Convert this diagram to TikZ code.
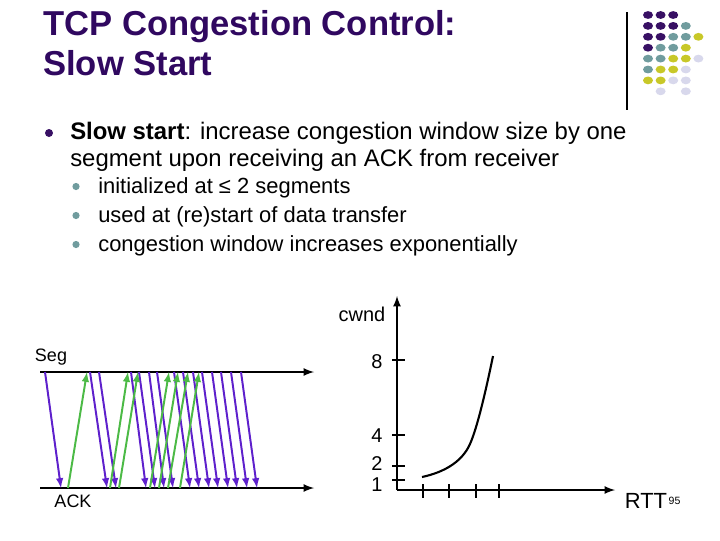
\documentclass[tikz,border=0pt]{standalone}
\usepackage{fontspec}
\setmainfont{Liberation Sans}
\usetikzlibrary{arrows,positioning}
\definecolor{titlepurple}{RGB}{48,8,96}
\definecolor{segviolet}{RGB}{94,32,204}
\definecolor{ackgreen}{RGB}{76,186,70}
\definecolor{dotP}{RGB}{56,16,100}
\definecolor{dotT}{RGB}{112,156,158}
\definecolor{dotY}{RGB}{200,200,40}
\definecolor{dotL}{RGB}{216,216,236}
\tikzset{every node/.append style={transform shape=false}}
\tikzset{
  titletext/.style={font=\fontsize{24.6}{28}\selectfont\bfseries,text=titlepurple,anchor=base west,inner sep=0},
  bodytext/.style={font=\fontsize{17}{19.2}\selectfont,anchor=base west,inner sep=0},
  subtext/.style={font=\fontsize{15.6}{18}\selectfont,anchor=base west,inner sep=0},
  axislabel/.style={font=\fontsize{14.2}{16}\selectfont,inner sep=0},
  smalllabel/.style={font=\fontsize{12.8}{15}\selectfont,inner sep=0},
  seg/.style={draw=segviolet,line width=1.4pt,-latex},
  ack/.style={draw=ackgreen,line width=1.4pt,-latex},
  timeline/.style={line width=1.5pt,-latex},
  axis/.style={line width=1.5pt,-latex},
  tick/.style={line width=1.3pt}
}

\begin{document}
\begin{tikzpicture}[x=0.025cm,y=-0.025cm]
\useasboundingbox (0,0) rectangle (720,540);
\node[titletext] (title1) at (43,35) {TCP Congestion Control:};
\node[titletext] (title2) at (43,75) {Slow Start};
\draw[line width=0.8pt] (627,12)--(627,110);
\foreach \r/\cl in {1/{P,P,P,N,N},2/{P,P,P,T,N},3/{P,P,T,T,Y},4/{P,T,T,Y,N},
  5/{T,T,Y,Y,L},6/{T,Y,Y,L,N},7/{Y,Y,L,L,N},8/{N,L,N,L,N}}{
  \foreach \c [count=\k] in \cl {
    \if\c N\else
      \fill[dot\c] ({648+12.6*(\k-1)},{15+10.9*(\r-1)}) ellipse (5 and 3.9);
    \fi
  }
}
\fill[dotP] (49,133) circle (4);
\node[bodytext] (main1) at (70,139) {\textbf{Slow start}: increase congestion window size by one};
\node[bodytext] (main2) at (70,166) {segment upon receiving an ACK from receiver};
\foreach \y/\txt [count=\i] in {193/{initialized at ≤ 2 segments},222/{used at (re)start of data transfer},251/{congestion window increases exponentially}}{
  \fill[dotT] (76,\y-6.5) circle (3.6);
  \node[subtext] (sub\i) at (98,\y) {\txt};
}
\coordinate (segstart) at (40,372);
\coordinate (segend) at (314,372);
\coordinate (ackstart) at (40,488);
\coordinate (ackend) at (314,488);
\draw[timeline] (segstart)--(segend);
\draw[timeline] (ackstart)--(ackend);
\node[smalllabel] (seglabel) at (51,357) {Seg};
\node[smalllabel] (acklabel) at (73,501) {ACK};
\foreach \t/\b [count=\i] in {45/61,90/107,99/116,131/146,139/155,149/164,157/173,
  174/190,183/199,193/209,202/218,212/228,221/237,231/247,241/257}{
  \coordinate (s\i) at (\t,372);
  \coordinate (r\i) at (\b,488);
  \draw[seg] (s\i)--(r\i);
}
\foreach \b/\t [count=\i] in {68/87,110/128,119/138,150/169,159/178,168/188,180/199}{
  \coordinate (a\i) at (\b,488);
  \coordinate (g\i) at (\t,372);
  \draw[ack] (a\i)--(g\i);
}
\coordinate (origin) at (397,490);
\coordinate (ytop) at (397,296);
\coordinate (xend) at (615,490);
\draw[axis] (origin)--(ytop);
\draw[axis] (origin)--(xend);
\node[axislabel] (cwnd) at (362,314) {cwnd};
\foreach \v/\y in {8/360,4/435,2/466,1/480}{
  \draw[tick] (392,\y)--(405,\y);
}
\node[axislabel] (l8) at (377,362) {8};
\node[axislabel] (l4) at (377,436) {4};
\node[axislabel] (l2) at (377,464) {2};
\node[axislabel] (l1) at (377,485) {1};
\foreach \x in {423,449,476,499}{
  \draw[tick] (\x,484)--(\x,498);
}
\draw[line width=1.5pt] (422,477) .. controls (445,472) and (460,462) .. (468,448)
  .. controls (476,434) and (486,390) .. (493,356);
\node[font=\fontsize{15.6}{18}\selectfont,inner sep=0] (rtt) at (646,501) {RTT};
\node[font=\fontsize{7.5}{9}\selectfont,inner sep=0,right=1 of rtt.east] (pagenum) {95};
\end{tikzpicture}
\end{document}
